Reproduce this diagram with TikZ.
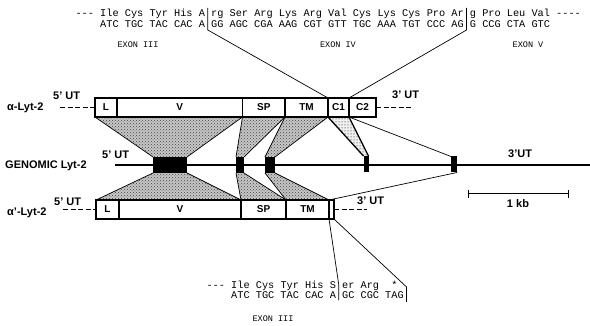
\documentclass[tikz,border=0pt]{standalone}
\usepackage{fontspec}
\setmainfont{Liberation Serif}
\setsansfont{Liberation Sans}
\setmonofont{Liberation Mono}
\usetikzlibrary{positioning,calc,patterns,backgrounds}
\newcommand\cw{6.16}

\begin{document}
\begin{tikzpicture}
                    [x=1pt, y=-1pt,
                    seg/.style={rectangle, draw, fill=white,
                        line width=1.3pt, inner sep=0pt, outer sep=0pt,
                        minimum height=19pt,
                        font=\sffamily\bfseries\fontsize{10}{12}\selectfont},
                    exon/.style={rectangle, fill=black,
                        inner sep=0pt, outer sep=0pt, minimum height=16pt},
                    lbl/.style={inner sep=0pt,
                        font=\sffamily\bfseries\fontsize{11}{13}\selectfont},
                    seq/.style={inner sep=0pt, anchor=base west,
                        font=\ttfamily\fontsize{10.27}{12}\selectfont},
                    exn/.style={inner sep=0pt,
                        font=\ttfamily\fontsize{8.5}{10}\selectfont},
                    stipple/.style={fill=black!22,
                        postaction={pattern=crosshatch dots, pattern color=black!75}},
                    sparse/.style={fill=black!6,
                        postaction={pattern=dots, pattern color=black}},
                    leader/.style={line width=1.6pt, dash pattern=on 5pt off 2.5pt},
                    link/.style={line width=0.7pt}]

                    \useasboundingbox (0,0) rectangle (590,326);

                    % alpha mRNA
                    \node[seg, minimum width=22pt] (aL) at (106,107.5) {L};
                    \node[seg, minimum width=125.5pt, right=0pt of aL] (aV) {V};
                    \node[seg, minimum width=42.5pt, right=0pt of aV] (aSP) {SP};
                    \node[seg, minimum width=43pt, right=0pt of aSP] (aTM) {TM};
                    \node[seg, minimum width=21pt, right=0pt of aTM] (aC1) {C1};
                    \node[seg, minimum width=27pt, right=0pt of aC1] (aC2) {C2};

                    % alpha' mRNA
                    \node[seg, minimum width=23pt] (bL) at (107.5,209.5) {L};
                    \node[seg, minimum width=122pt, right=0pt of bL] (bV) {V};
                    \node[seg, minimum width=45pt, right=0pt of bV] (bSP) {SP};
                    \node[seg, minimum width=43pt, right=0pt of bSP] (bTM) {TM};
                    \node[seg, minimum width=5pt, right=0pt of bTM] (bX) {};

                    % genomic gene
                    \coordinate (g0) at (115,165);
                    \coordinate (g1) at (590,165);
                    \draw[line width=1.2pt] (g0) -- (g1);
                    \node[exon, minimum width=34pt] (gV) at (170,165) {};
                    \node[exon, minimum width=8pt] (gSP) at (240,165) {};
                    \node[exon, minimum width=10pt] (gTM) at (270,165) {};
                    \node[exon, minimum width=5pt] (gC1) at (366,164) {};
                    \node[exon, minimum width=6pt] (gC2) at (454,164.5) {};

                    % stippled joins
                    \begin{pgfonlayer}{background}
                    \path[stipple] (aL.south west) -- (aV.south east)
                        -- (gV.north east) -- (gV.north west) -- cycle;
                    \path[stipple] (aSP.south west) -- (aSP.south east)
                        -- (gSP.north east) -- (gSP.north west) -- cycle;
                    \path[stipple] (aTM.south west) -- (aTM.south east)
                        -- (gTM.north east) -- (gTM.north west) -- cycle;
                    \path[sparse] (aC1.south west) -- (aC1.south east)
                        -- (gC1.north east) -- (gC1.north west) -- cycle;
                    \path[stipple] (gV.south west) -- (gV.south east)
                        -- (bV.north east) -- (bL.north west) -- cycle;
                    \path[stipple] (gSP.south west) -- (gSP.south east)
                        -- (bSP.north east) -- (bSP.north west) -- cycle;
                    \path[stipple] (gTM.south west) -- (gTM.south east)
                        -- (bTM.north east) -- (bTM.north west) -- cycle;
                    \end{pgfonlayer}

                    \path[link]
                        (aL.south west)  edge (gV.north west)
                        (aV.south east)  edge (gV.north east)
                        (aSP.south west) edge (gSP.north west)
                        (aSP.south east) edge (gSP.north east)
                        (aTM.south west) edge (gTM.north west)
                        (aTM.south east) edge (gTM.north east)
                        (aC2.south west) edge (gC2.north west)
                        (gV.south west)  edge (bL.north west)
                        (gV.south east)  edge (bV.north east)
                        (gSP.south west) edge (bSP.north west)
                        (gSP.south east) edge (bSP.north east)
                        (gTM.south west) edge (bTM.north west)
                        (gTM.south east) edge (bTM.north east)
                        (gC2.south east) edge (bX.north west);
                    \path[line width=1.3pt]
                        (aC1.south west) edge (gC1.north west)
                        (aC1.south east) edge (gC1.north east);

                    % labels
                    \node[lbl, anchor=west] (alpha) at (7,108) {α-Lyt-2};
                    \node[lbl, anchor=west] (a5) at (53,96) {5' UT};
                    \node[lbl, anchor=west] (a3) at (392,95) {3' UT};
                    \node[lbl, anchor=west] (gen) at (5,166) {GENOMIC Lyt-2};
                    \node[lbl, anchor=west] (g5) at (102,155) {5' UT};
                    \node[lbl, anchor=west] (g3) at (508,154) {3'UT};
                    \node[lbl, anchor=west] (alphap) at (7,213) {α'-Lyt-2};
                    \node[lbl, anchor=west] (b5) at (54,202) {5' UT};
                    \node[lbl, anchor=west] (b3) at (357,201) {3' UT};

                    % untranslated ends
                    \coordinate (a5l) at (60,107.5);
                    \coordinate (a3r) at (412,107.5);
                    \coordinate (b5l) at (63,209.5);
                    \coordinate (b3r) at (367,209.5);
                    \draw[leader] (a5l) -- (aL.west);
                    \draw[leader] (aC2.east) -- (a3r);
                    \draw[leader] (b5l) -- (bL.west);
                    \draw[leader] (bX.east) -- (b3r);

                    % scale bar
                    \coordinate (kb0) at (468,194);
                    \coordinate (kb1) at (569,194);
                    \draw[line width=1pt, |-|] (kb0) -- (kb1);
                    \node[lbl] (kb) at (518,203.5) {1 kb};

                    % sequences, alpha
                    \node[seq] (t1) at (100-4*\cw,17)
                        {--- Ile Cys Tyr His A rg Ser Arg Lys Arg Val Cys Lys Cys Pro Ar g Pro Leu Val ----};
                    \node[seq] (t2) at (100,27.5)
                        {ATC TGC TAC CAC A GG AGC CGA AAG CGT GTT TGC AAA TGT CCC AG G CCG CTA GTC};
                    \coordinate (tb1) at ($(t2.base west)+(17.5*\cw,-19.5)$);
                    \coordinate (tb1b) at ($(t2.base west)+(17.5*\cw,2.5)$);
                    \coordinate (tb2) at ($(t2.base west)+(59.5*\cw,-19.5)$);
                    \coordinate (tb2b) at ($(t2.base west)+(59.5*\cw,2.5)$);
                    \draw[link] (aC1.north west) -- (tb1b) -- (tb1);
                    \draw[link] (aC2.north west) -- (tb2b) -- (tb2);
                    \node[exn] (e3) at (138,45) {EXON III};
                    \node[exn] (e4) at (338,45) {EXON IV};
                    \node[exn] (e5) at (528,45) {EXON V};

                    % sequences, alpha'
                    \node[seq] (s1) at (231-4*\cw,289)
                        {--- Ile Cys Tyr His S er Arg~~*};
                    \node[seq] (s2) at (231,299)
                        {ATC TGC TAC CAC A GC CGC TAG};
                    \coordinate (sb1) at ($(s2.base west)+(17.5*\cw,-14)$);
                    \coordinate (sb1b) at ($(s2.base west)+(17.5*\cw,1.5)$);
                    \coordinate (sb2) at ($(s2.base west)+(28.5*\cw,-12)$);
                    \coordinate (sb2b) at ($(s2.base west)+(28.5*\cw,3)$);
                    \draw[link] (bX.south west) -- (sb1) -- (sb1b);
                    \draw[link] (bX.south east) -- (sb2) -- (sb2b);
                    \node[exn] (e3b) at (273,319) {EXON III};
                \end{tikzpicture}
\end{document}
